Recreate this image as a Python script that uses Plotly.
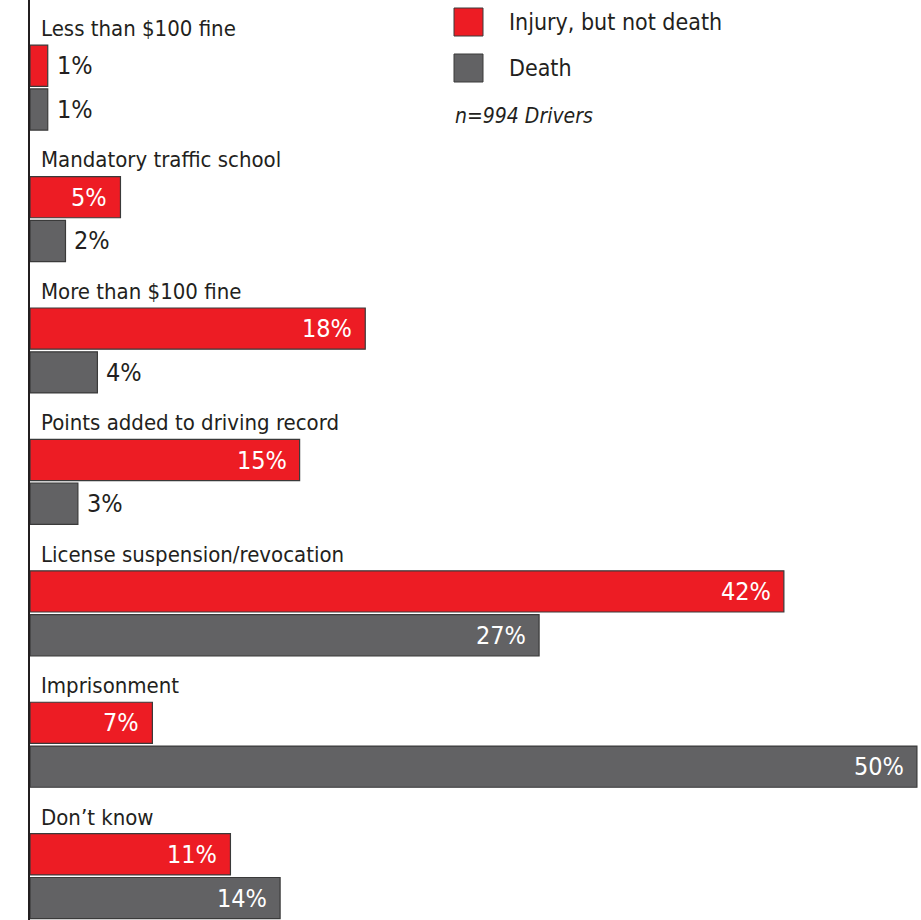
import plotly.graph_objects as go

categories = [
    "Less than $100 fine",
    "Mandatory traffic school",
    "More than $100 fine",
    "Points added to driving record",
    "License suspension/revocation",
    "Imprisonment",
    "Don\u2019t know",
]
# printed percentages
injury_labels = [1, 5, 18, 15, 42, 7, 11]
death_labels = [1, 2, 4, 3, 27, 50, 14]
# bar lengths as drawn in the picture (percent scale)
injury_bars = [1.0, 5.1, 18.9, 15.2, 42.5, 6.9, 11.3]
death_bars = [1.0, 2.0, 3.8, 2.7, 28.7, 50.0, 14.1]

series_names = ["Injury, but not death", "Death"]
colors = ["#ED1C24", "#626264"]
note = "n=994 Drivers"

W, H = 921, 920
ML = 30
PW = W - ML
FONT = "DejaVu Sans Condensed, Liberation Sans Narrow, Arial Narrow, sans-serif"
TXT = "#231f20"

n = len(categories)
y_label = [3 * i + 0.15 for i in range(n)]
y_inj = [3 * i + 1 for i in range(n)]
y_dea = [3 * i + 2 for i in range(n)]

fig = go.Figure()
for name, col, xs, ys in [
    (series_names[0], colors[0], injury_bars, y_inj),
    (series_names[1], colors[1], death_bars, y_dea),
]:
    fig.add_trace(go.Bar(
        x=xs, y=ys, orientation="h", name=name, width=0.94,
        marker=dict(color=col, line=dict(color="#3a3a3a", width=1.2)),
        showlegend=False, hoverinfo="skip",
    ))

annotations = []
for i, cat in enumerate(categories):
    annotations.append(dict(
        x=0, y=y_label[i], xref="x", yref="y", text=cat, showarrow=False,
        xanchor="left", yanchor="middle", xshift=9,
        font=dict(family=FONT, size=22, color=TXT),
    ))
    for bars, labs, ys in [(injury_bars, injury_labels, y_inj), (death_bars, death_labels, y_dea)]:
        v = bars[i]
        inside = labs[i] >= 5
        annotations.append(dict(
            x=v, y=ys[i], xref="x", yref="y", text=f"{labs[i]}%", showarrow=False,
            xanchor="right" if inside else "left", yanchor="middle",
            xshift=-11 if inside else 7,
            font=dict(family=FONT, size=25, color="white" if inside else TXT),
        ))


def px(xp):
    return (xp - ML) / PW


def py(yp):
    return 1 - yp / H


shapes = []
for k, (y0, y1) in enumerate([(8, 36), (54, 82)]):
    shapes.append(dict(
        type="rect", xref="paper", yref="paper",
        x0=px(454), x1=px(483), y0=py(y1), y1=py(y0),
        fillcolor=colors[k], line=dict(color="#3a3a3a", width=1),
    ))
    annotations.append(dict(
        x=px(507), y=py((y0 + y1) / 2), xref="paper", yref="paper",
        text=series_names[k], showarrow=False, xanchor="left", yanchor="middle",
        font=dict(family=FONT, size=23, color=TXT),
    ))
annotations.append(dict(
    x=px(453), y=py(116), xref="paper", yref="paper",
    text=f"<i>{note}</i>", showarrow=False, xanchor="left", yanchor="middle",
    font=dict(family=FONT, size=21, color=TXT),
))

fig.update_layout(
    width=W, height=H,
    margin=dict(l=ML, r=0, t=0, b=0),
    paper_bgcolor="white", plot_bgcolor="white",
    barmode="overlay",
    xaxis=dict(range=[0, 50.23], visible=False),
    yaxis=dict(range=[20.5, -0.5], showline=True, linecolor=TXT, linewidth=2,
               showticklabels=False, showgrid=False, zeroline=False, ticks=""),
    annotations=annotations, shapes=shapes,
)

fig.write_html("out.html")
